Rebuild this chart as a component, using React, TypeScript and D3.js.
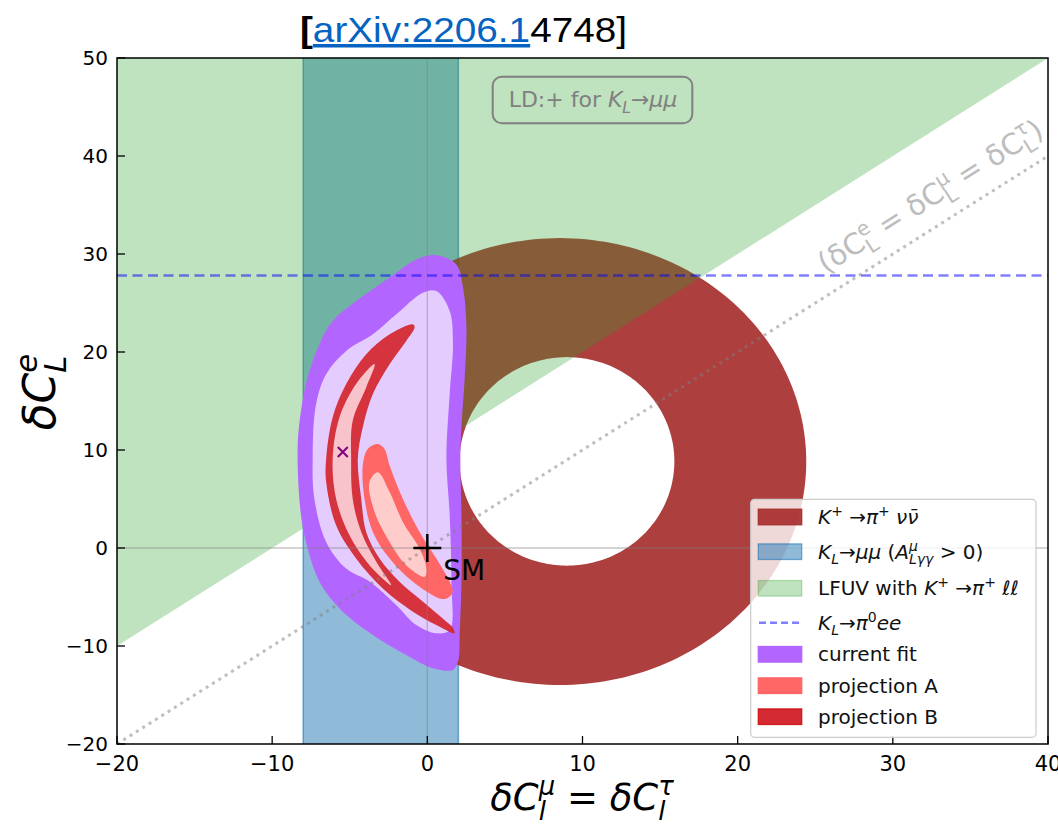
import React, { useEffect, useRef } from 'react';
import * as d3 from 'd3';

const W = 1058;
const H = 825;
const M = { left: 117, right: 1048, top: 58, bottom: 744 };

const xDomain: [number, number] = [-20, 40];
const yDomain: [number, number] = [-20, 50];
const xTicks = [-20, -10, 0, 10, 20, 30, 40];
const yTicks = [-20, -10, 0, 10, 20, 30, 40, 50];

// K+ -> pi+ nu nubar allowed annulus (outer / inner ellipse)
const ringOuter = { cx: 8.55, cy: 8.82, rx: 15.87, ry: 22.8 };
const ringInner = { cx: 9.0, cy: 8.84, rx: 6.92, ry: 10.64 };
// K_L -> mu mu band
const klmumuBand = [-8, 2];
// LFUV boundary (region above)
const lfuvBoundary: [number, number][] = [[-20, -10], [40, 50]];
// K_L -> pi0 e e bound
const klpi0eeLevel = 27.8;
// lepton-universal line
const lfuLine: [number, number][] = [[-20, -20], [40, 40]];
const smPoint: [number, number] = [0, 0];
const bestFitPoint: [number, number] = [-5.45, 9.8];

// current fit contours
const currentFitOuter: [number, number][] = [
  [0.58, 29.88], [1.87, 28.94], [2.30, 26.57], [2.52, 22.53], [2.41, 17.44], [2.20, 12.35],
  [2.13, 9.10], [2.20, 3.33], [2.20, -3.42], [2.09, -8.51], [1.98, -11.59], [1.65, -12.44],
  [0.36, -12.27], [-1.36, -10.92], [-3.51, -8.88], [-5.66, -6.17], [-6.96, -3.42], [-7.71, -0.06],
  [-8.14, 3.33], [-8.36, 10.11], [-8.14, 14.01], [-7.71, 17.44], [-6.96, 20.80], [-6.10, 23.17],
  [-4.59, 25.20], [-2.43, 27.61], [-0.71, 29.44],
];
const currentFitInner: [number, number][] = [
  [0.58, 26.22], [1.44, 24.18], [1.65, 20.80], [1.44, 15.71], [1.23, 9.10], [1.44, 3.33],
  [1.55, -3.45], [1.44, -8.37], [0.58, -8.71], [-0.71, -7.86], [-2.00, -5.83], [-3.73, -3.42],
  [-5.23, -2.10], [-6.52, 0.62], [-7.28, 5.03], [-7.39, 9.10], [-7.17, 14.69], [-6.52, 17.74],
  [-5.23, 20.11], [-3.51, 21.81], [-2.00, 23.85], [-0.28, 26.05],
];
// projection A contours
const projAOuter: [number, number][] = [
  [-3.19, 10.62], [-2.76, 10.11], [-2.43, 8.41], [-1.58, 5.03], [-0.50, 1.64], [0.58, -1.08],
  [1.44, -3.45], [1.63, -4.54], [1.25, -5.15], [0.79, -5.15], [-0.93, -3.45], [-2.43, -1.08],
  [-3.51, 1.64], [-4.05, 5.03], [-4.16, 8.41], [-3.84, 10.11],
];
const projAInner: [number, number][] = [
  [-3.19, 7.74], [-2.43, 5.71], [-1.58, 2.66], [-0.50, -0.06], [-0.06, -2.10], [-0.17, -2.94],
  [-1.36, -1.76], [-2.43, 0.62], [-3.40, 3.67], [-3.73, 6.73],
];
// projection B contours
const projBOuter: [number, number][] = [
  [-0.93, 22.83], [-2.43, 21.81], [-3.94, 19.78], [-5.23, 16.73], [-6.10, 13.34], [-6.52, 9.10],
  [-6.52, 6.73], [-5.88, 2.31], [-4.59, -1.08], [-2.87, -4.13], [-0.93, -6.50], [0.58, -7.86],
  [1.76, -8.71], [1.63, -8.10], [1.23, -7.52], [-0.28, -5.48], [-1.79, -3.45], [-3.08, -1.08],
  [-3.94, 1.64], [-4.26, 5.03], [-4.48, 9.10], [-4.16, 12.32], [-3.51, 15.71], [-2.43, 18.76],
  [-1.36, 21.13], [-0.82, 22.53],
];
const projBInner: [number, number][] = [
  [-3.40, 18.76], [-4.59, 16.73], [-5.66, 13.34], [-6.10, 9.10], [-5.88, 5.03], [-5.02, 1.29],
  [-3.73, -1.76], [-2.33, -3.79], [-3.29, -1.41], [-4.26, 1.64], [-4.81, 5.03], [-4.91, 9.10],
  [-4.81, 12.99], [-3.94, 16.39],
];

type Seg = { t?: string; i?: boolean; sup?: string; sub?: string; supI?: boolean; subI?: boolean };

const legendLabels: Seg[][] = [
  [{ t: 'K', i: true, sup: '+' }, { t: ' →' }, { t: 'π', i: true, sup: '+' }, { t: ' νν̄', i: true }],
  [{ t: 'K', i: true, sub: 'L', subI: true }, { t: '→' }, { t: 'μμ', i: true }, { t: ' (' },
   { t: 'A', i: true, sup: 'μ', supI: true, sub: 'Lγγ', subI: true }, { t: ' > 0)' }],
  [{ t: 'LFUV with ' }, { t: 'K', i: true, sup: '+' }, { t: ' →' }, { t: 'π', i: true, sup: '+' }, { t: ' ℓℓ', i: true }],
  [{ t: 'K', i: true, sub: 'L', subI: true }, { t: '→' }, { t: 'π', i: true, sup: '0' }, { t: 'ee', i: true }],
  [{ t: 'current fit' }],
  [{ t: 'projection A' }],
  [{ t: 'projection B' }],
];

export default function App() {
  const ref = useRef<SVGSVGElement>(null);

  useEffect(() => {
    const svg = d3.select(ref.current as SVGSVGElement);
    svg.selectAll('*').remove();

    const x = d3.scaleLinear().domain(xDomain).range([M.left, M.right]);
    const y = d3.scaleLinear().domain(yDomain).range([M.bottom, M.top]);

    const mathText = (parent: any, segs: Seg[], fs: number, color: string, anchor: string) => {
      const g = parent.append('g');
      let cx = 0;
      const add = (txt: string, xx: number, yy: number, size: number, italic: boolean) => {
        const t = g.append('text')
          .attr('x', xx).attr('y', yy)
          .attr('font-size', size)
          .attr('font-style', italic ? 'italic' : 'normal')
          .attr('fill', color)
          .style('white-space', 'pre')
          .text(txt);
        return (t.node() as SVGTextElement).getComputedTextLength();
      };
      for (const s of segs) {
        if (s.t) cx += add(s.t, cx, 0, fs, !!s.i);
        let w = 0;
        if (s.sup) w = Math.max(w, add(s.sup, cx, -0.4 * fs, 0.7 * fs, !!s.supI));
        if (s.sub) w = Math.max(w, add(s.sub, cx, 0.26 * fs, 0.7 * fs, !!s.subI));
        cx += w;
      }
      const off = anchor === 'middle' ? -cx / 2 : anchor === 'end' ? -cx : 0;
      g.selectAll('text').attr('x', function (this: any) { return +d3.select(this).attr('x') + off; });
      return { g, width: cx };
    };

    const defs = svg.append('defs');
    defs.append('clipPath').attr('id', 'plotclip').append('rect')
      .attr('x', M.left).attr('y', M.top).attr('width', M.right - M.left).attr('height', M.bottom - M.top);

    const plot = svg.append('g').attr('clip-path', 'url(#plotclip)');

    // K_L -> mu mu band
    plot.append('rect')
      .attr('x', x(klmumuBand[0])).attr('y', M.top - 5)
      .attr('width', x(klmumuBand[1]) - x(klmumuBand[0])).attr('height', M.bottom - M.top + 10)
      .attr('fill', '#1f77b4').attr('fill-opacity', 0.5)
      .attr('stroke', '#1f77b4').attr('stroke-opacity', 0.6).attr('stroke-width', 1.5);

    // ring
    const ellipse = (e: any, n = 240): [number, number][] =>
      d3.range(n).map((i) => {
        const t = (2 * Math.PI * i) / n;
        return [e.cx + e.rx * Math.cos(t), e.cy + e.ry * Math.sin(t)] as [number, number];
      });
    const line = d3.line<[number, number]>().x((d) => x(d[0])).y((d) => y(d[1]));
    const ringD = line(ellipse(ringOuter)) + 'Z' + line(ellipse(ringInner).reverse()) + 'Z';
    plot.append('path').attr('d', ringD).attr('fill', '#a52a2a').attr('fill-opacity', 0.9).attr('fill-rule', 'evenodd');

    // LFUV green region
    const greenPoly: [number, number][] = [lfuvBoundary[0], lfuvBoundary[1], [xDomain[0], yDomain[1]]];
    plot.append('path').attr('d', line(greenPoly) + 'Z').attr('fill', '#2ca02c').attr('fill-opacity', 0.3);

    // contours
    const smooth = d3.line<[number, number]>().x((d) => x(d[0])).y((d) => y(d[1])).curve(d3.curveCatmullRomClosed.alpha(0.5));
    plot.append('path').attr('d', smooth(currentFitOuter)).attr('fill', '#b366ff');
    plot.append('path').attr('d', smooth(currentFitInner)).attr('fill', '#e5ccff');
    plot.append('path').attr('d', smooth(projAOuter)).attr('fill', '#ff6666');
    plot.append('path').attr('d', smooth(projAInner)).attr('fill', '#ffcccc');
    plot.append('path').attr('d', smooth(projBOuter)).attr('fill', '#d42a33').attr('fill-opacity', 0.95);
    plot.append('path').attr('d', smooth(projBInner)).attr('fill', '#f9c3cb');

    // zero lines
    plot.append('line').attr('x1', x(0)).attr('x2', x(0)).attr('y1', M.top).attr('y2', M.bottom)
      .attr('stroke', 'gray').attr('stroke-opacity', 0.45).attr('stroke-width', 1.3);
    plot.append('line').attr('x1', M.left).attr('x2', M.right).attr('y1', y(0)).attr('y2', y(0))
      .attr('stroke', 'gray').attr('stroke-opacity', 0.45).attr('stroke-width', 1.3);

    // dotted universality line
    plot.append('path').attr('d', line(lfuLine)).attr('stroke', 'gray').attr('stroke-opacity', 0.5)
      .attr('stroke-width', 3).attr('stroke-dasharray', '3 4.5').attr('fill', 'none');

    // dashed K_L -> pi0 ee
    plot.append('line').attr('x1', M.left).attr('x2', M.right).attr('y1', y(klpi0eeLevel)).attr('y2', y(klpi0eeLevel))
      .attr('stroke', 'blue').attr('stroke-opacity', 0.5).attr('stroke-width', 2.6).attr('stroke-dasharray', '10 5.5');

    // best fit x marker
    const bx = x(bestFitPoint[0]);
    const by = y(bestFitPoint[1]);
    plot.append('path').attr('d', `M${bx - 5},${by - 5}L${bx + 5},${by + 5}M${bx - 5},${by + 5}L${bx + 5},${by - 5}`)
      .attr('stroke', '#800080').attr('stroke-width', 2);

    // SM marker
    const sx = x(smPoint[0]);
    const sy = y(smPoint[1]);
    plot.append('path').attr('d', `M${sx - 14},${sy}L${sx + 14},${sy}M${sx},${sy - 14}L${sx},${sy + 14}`)
      .attr('stroke', 'black').attr('stroke-width', 2.5);
    svg.append('text').attr('x', sx + 16).attr('y', sy + 32).attr('font-size', 28).attr('fill', 'black').text('SM');

    // diagonal label
    const lx = 33.4;
    const lg = svg.append('g')
      .attr('transform', `translate(${x(lx)},${y(lx)}) rotate(${-Math.atan2(y(0) - y(1), x(1) - x(0)) * 180 / Math.PI}) translate(0,-19)`);
    mathText(lg, [
      { t: '(δC', sup: 'e', sub: 'L' }, { t: ' = δC', sup: 'μ', sub: 'L' }, { t: ' = δC', sup: 'τ', sub: 'L' }, { t: ')' },
    ], 29, '#bdbdbd', 'middle');

    // LD box
    svg.append('rect').attr('x', 492.7).attr('y', 76.7).attr('width', 199.6).attr('height', 46.6).attr('rx', 9)
      .attr('fill', 'none').attr('stroke', '#808080').attr('stroke-width', 2);
    const ldg = svg.append('g').attr('transform', 'translate(593,107)');
    mathText(ldg, [{ t: 'LD:+ for ' }, { t: 'K', i: true, sub: 'L', subI: true }, { t: '→' }, { t: 'μμ', i: true }], 22, '#808080', 'middle');

    // frame
    svg.append('rect').attr('x', M.left).attr('y', M.top).attr('width', M.right - M.left).attr('height', M.bottom - M.top)
      .attr('fill', 'none').attr('stroke', 'black').attr('stroke-width', 1.5);

    // ticks
    const ax = svg.append('g');
    xTicks.forEach((v) => {
      ax.append('line').attr('x1', x(v)).attr('x2', x(v)).attr('y1', M.bottom).attr('y2', M.bottom - 8).attr('stroke', 'black').attr('stroke-width', 1.3);
      ax.append('text').attr('x', x(v)).attr('y', 771).attr('text-anchor', 'middle').attr('font-size', 21).text(String(v).replace('-', '−'));
    });
    yTicks.forEach((v) => {
      ax.append('line').attr('x1', M.left).attr('x2', M.left + 8).attr('y1', y(v)).attr('y2', y(v)).attr('stroke', 'black').attr('stroke-width', 1.3);
      ax.append('text').attr('x', 108).attr('y', y(v) + 7).attr('text-anchor', 'end').attr('font-size', 20).text(String(v).replace('-', '−'));
    });

    // axis labels
    const xl = svg.append('g').attr('transform', 'translate(582,810)');
    mathText(xl, [{ t: 'δC', i: true, sup: 'μ', supI: true, sub: 'l', subI: true }, { t: ' = ' }, { t: 'δC', i: true, sup: 'τ', supI: true, sub: 'l', subI: true }], 37, 'black', 'middle');
    const yl = svg.append('g').attr('transform', 'translate(55,392) rotate(-90)');
    mathText(yl, [{ t: 'δC', i: true, sup: 'e', supI: true, sub: 'L', subI: true }], 44, 'black', 'middle');

    // legend
    const L = { x: 750.7, y: 499.3, w: 285.3, h: 238 };
    const leg = svg.append('g');
    leg.append('rect').attr('x', L.x).attr('y', L.y).attr('width', L.w).attr('height', L.h).attr('rx', 4)
      .attr('fill', 'white').attr('fill-opacity', 0.8).attr('stroke', '#cccccc').attr('stroke-width', 1.2);
    const rowY = [17.7, 52.4, 89, 123.4, 155, 186.4, 217.4];
    const patches = [
      { fill: '#a52a2a', fo: 0.9, stroke: '#a52a2a', so: 0.9 },
      { fill: '#1f77b4', fo: 0.5, stroke: '#1f77b4', so: 0.6 },
      { fill: '#2ca02c', fo: 0.3, stroke: '#2ca02c', so: 0.3 },
      null,
      { fill: '#b366ff', fo: 1, stroke: '#b366ff', so: 1 },
      { fill: '#ff6666', fo: 1, stroke: '#ff6666', so: 1 },
      { fill: '#d42a33', fo: 1, stroke: '#cc0000', so: 0.8 },
    ];
    legendLabels.forEach((lab, i) => {
      const cy = L.y + rowY[i];
      const p = patches[i];
      if (p) {
        leg.append('rect').attr('x', 758.3).attr('y', cy - 7.8).attr('width', 43.4).attr('height', 15.6)
          .attr('fill', p.fill).attr('fill-opacity', p.fo).attr('stroke', p.stroke).attr('stroke-opacity', p.so).attr('stroke-width', 1.3);
      } else {
        leg.append('line').attr('x1', 759).attr('x2', 801).attr('y1', cy).attr('y2', cy)
          .attr('stroke', 'blue').attr('stroke-opacity', 0.5).attr('stroke-width', 2.6).attr('stroke-dasharray', '7 4');
      }
      const tg = leg.append('g').attr('transform', `translate(818,${cy + 7})`);
      mathText(tg, lab, 20, '#111', 'start');
    });

    // title
    const title = svg.append('text').attr('x', 300).attr('y', 42).attr('font-family', '"Liberation Sans", Arial, sans-serif')
      .attr('font-size', 35).attr('textLength', 327).attr('lengthAdjust', 'spacingAndGlyphs');
    title.append('tspan').attr('font-weight', 'bold').attr('fill', 'black').text('[');
    title.append('tspan').attr('fill', '#0563c1').attr('text-decoration', 'underline').text('arXiv:2206.1');
    title.append('tspan').attr('fill', 'black').text('4748]');
  }, []);

  return (
    <svg
      ref={ref}
      width={W}
      height={H}
      style={{ position: 'absolute', left: 0, top: 0, background: 'white', fontFamily: '"DejaVu Sans", sans-serif' }}
    />
  );
}
